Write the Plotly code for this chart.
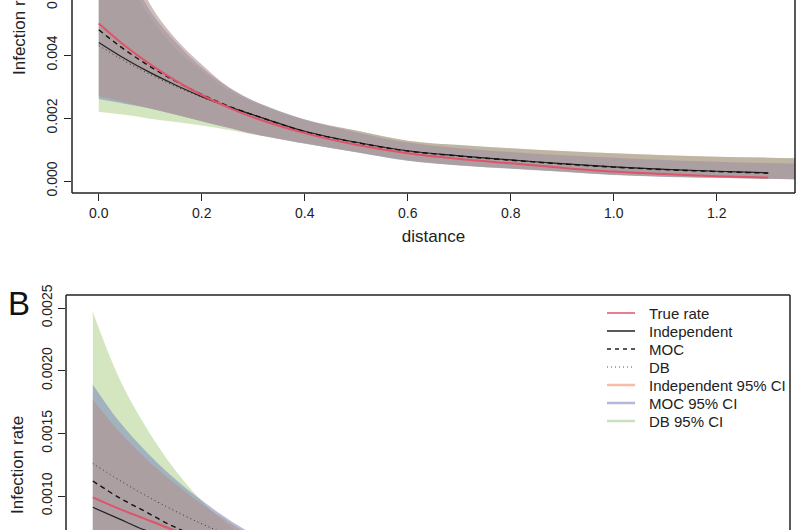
import plotly.graph_objects as go

# ---------------- Panel A data ----------------
dist_a = [0, 0.05, 0.1, 0.15, 0.2, 0.25, 0.3, 0.4, 0.5, 0.6, 0.7, 0.8, 0.9, 1.0, 1.1, 1.2, 1.3]
true_a = [0.0050, 0.0043, 0.0037, 0.00318, 0.00273, 0.00235, 0.00202, 0.00152, 0.00115, 0.00088,
          0.00070, 0.00056, 0.00042, 0.00030, 0.00022, 0.00015, 0.00011]
indep_a = [0.0044, 0.00389, 0.00344, 0.00304, 0.00268, 0.00237, 0.0021, 0.00158, 0.00123, 0.00096,
           0.00080, 0.00067, 0.00055, 0.00045, 0.00037, 0.00031, 0.00026]
moc_a = [0.0048, 0.00417, 0.00363, 0.00316, 0.00275, 0.00239, 0.0021, 0.00157, 0.00122, 0.00095,
         0.00079, 0.00066, 0.00054, 0.00044, 0.00036, 0.00030, 0.00025]
db_a = [0.0043, 0.00381, 0.00338, 0.0030, 0.00266, 0.00236, 0.0021, 0.00158, 0.00123, 0.00096,
        0.00080, 0.00067, 0.00055, 0.00045, 0.00037, 0.00031, 0.00026]

dist_a_ci = [0, 0.05, 0.1, 0.15, 0.2, 0.25, 0.3, 0.4, 0.5, 0.6, 0.7, 0.8, 0.9, 1.0, 1.1, 1.2, 1.3, 1.4]
indep_a_up = [0.0098, 0.0075, 0.0056, 0.0045, 0.0037, 0.0030, 0.00255, 0.00195, 0.00160, 0.00128,
              0.00114, 0.00104, 0.00095, 0.00088, 0.00082, 0.00077, 0.00074, 0.00071]
indep_a_lo = [0.0027, 0.0025, 0.0023, 0.0021, 0.0019, 0.00170, 0.00150, 0.00120, 0.00092, 0.00066,
              0.00050, 0.00040, 0.00030, 0.00020, 0.00014, 0.00010, 0.00007, 0.00005]
moc_a_up = [0.0090, 0.0070, 0.0054, 0.0044, 0.0036, 0.0030, 0.00255, 0.00195, 0.00155, 0.00122,
            0.00104, 0.00092, 0.00082, 0.00074, 0.00067, 0.00061, 0.00057, 0.00054]
moc_a_lo = [0.0026, 0.00245, 0.0023, 0.0021, 0.0019, 0.00170, 0.00150, 0.00119, 0.00091, 0.00064,
            0.00049, 0.00039, 0.00029, 0.00019, 0.00013, 0.00010, 0.00007, 0.00005]
db_a_up = [0.0085, 0.0066, 0.0052, 0.0042, 0.0035, 0.0029, 0.0025, 0.00193, 0.00160, 0.00128,
           0.00114, 0.00104, 0.00095, 0.00088, 0.00082, 0.00077, 0.00074, 0.00071]
db_a_lo = [0.0022, 0.0021, 0.00198, 0.00187, 0.00176, 0.00163, 0.00148, 0.00118, 0.00091, 0.00064,
           0.00050, 0.00040, 0.00030, 0.00020, 0.00014, 0.00010, 0.00007, 0.00005]

# ---------------- Panel B data ----------------
dist_b = [0, 0.05, 0.1, 0.15, 0.2, 0.25, 0.3, 0.4, 0.5, 0.6, 0.7, 0.8, 0.9, 1.0, 1.1, 1.2, 1.3]
true_b = [0.00099, 0.00090, 0.00082, 0.00074, 0.00067, 0.00061, 0.00056, 0.00046, 0.00038, 0.00031,
          0.00026, 0.00021, 0.00017, 0.00014, 0.00012, 0.00010, 0.00008]
indep_b = [0.00091, 0.00082, 0.00073, 0.00066, 0.00060, 0.00054, 0.00049, 0.00040, 0.00033, 0.00027,
           0.00023, 0.00019, 0.00016, 0.00014, 0.00012, 0.00010, 0.00009]
moc_b = [0.00112, 0.00099, 0.00088, 0.00077, 0.00068, 0.00061, 0.00054, 0.00043, 0.00035, 0.00028,
         0.00023, 0.00019, 0.00016, 0.00014, 0.00012, 0.00010, 0.00009]
db_b = [0.00126, 0.00113, 0.00101, 0.00090, 0.00080, 0.00071, 0.00063, 0.00050, 0.00040, 0.00032,
        0.00026, 0.00021, 0.00017, 0.00014, 0.00012, 0.00010, 0.00009]

dist_b_ci = [0, 0.05, 0.1, 0.15, 0.2, 0.25, 0.3, 0.4, 0.5, 0.6, 0.7, 0.8, 0.9, 1.0, 1.1, 1.2, 1.3, 1.4]
indep_b_up = [0.00177, 0.00152, 0.00131, 0.00113, 0.00097, 0.00083, 0.00070, 0.00051, 0.00037, 0.00028,
              0.00022, 0.00018, 0.00015, 0.00013, 0.00011, 0.00010, 0.00009, 0.00008]
indep_b_lo = [0.00045, 0.00042, 0.00040, 0.00037, 0.00035, 0.00033, 0.00031, 0.00027, 0.00023, 0.00020,
              0.00017, 0.00015, 0.00013, 0.00011, 0.00010, 0.00009, 0.00008, 0.00007]
moc_b_up = [0.00189, 0.00160, 0.00137, 0.00117, 0.00100, 0.00085, 0.00072, 0.00052, 0.00038, 0.00029,
            0.00023, 0.00019, 0.00016, 0.00014, 0.00012, 0.00011, 0.00010, 0.00009]
moc_b_lo = [0.00044, 0.00041, 0.00039, 0.00036, 0.00034, 0.00032, 0.00030, 0.00026, 0.00022, 0.00019,
            0.00016, 0.00014, 0.00012, 0.00010, 0.00009, 0.00008, 0.00007, 0.00006]
db_b_up = [0.00247, 0.00195, 0.00157, 0.00126, 0.00101, 0.00081, 0.00066, 0.00046, 0.00033, 0.00026,
           0.00021, 0.00017, 0.00015, 0.00013, 0.00011, 0.00010, 0.00009, 0.00008]
db_b_lo = [0.00040, 0.00038, 0.00036, 0.00034, 0.00032, 0.00030, 0.00028, 0.00024, 0.00021, 0.00018,
           0.00015, 0.00013, 0.00011, 0.00010, 0.00009, 0.00008, 0.00007, 0.00006]

x_ticks = [0, 0.2, 0.4, 0.6, 0.8, 1.0, 1.2]
x_ticktext = ["0.0", "0.2", "0.4", "0.6", "0.8", "1.0", "1.2"]
ya_ticks = [0, 0.002, 0.004]
ya_ticktext = ["0.000", "0.002", "0.004"]
ya_cut_label = "0.006"
yb_ticks = [0.0010, 0.0015, 0.0020, 0.0025]
yb_ticktext = ["0.0010", "0.0015", "0.0020", "0.0025"]

legend_names = ["True rate", "Independent", "MOC", "DB",
                "Independent 95% CI", "MOC 95% CI", "DB 95% CI"]

# ---------------- styles ----------------
FONT = "Liberation Sans, Arial, Helvetica, sans-serif"
RED = "#DF536B"
FILL_DB = "rgba(183,213,150,0.6)"
FILL_MOC = "rgba(129,143,189,0.6)"
FILL_IND = "rgba(178,146,142,0.6)"
LEG_IND = "#F6BCA8"
LEG_MOC = "#B4B6DC"
LEG_DB = "#C9DFC0"

W, H = 800, 530
def px_x(p):
    return p / W
def px_y(p):
    return 1 - p / H

fig = go.Figure()

def add_band(x, lo, up, color, xa, ya):
    fig.add_trace(go.Scatter(x=x, y=lo, mode="lines", line=dict(width=0, shape="spline"),
                             showlegend=False, hoverinfo="skip", xaxis=xa, yaxis=ya))
    fig.add_trace(go.Scatter(x=x, y=up, mode="lines", line=dict(width=0, shape="spline"),
                             fill="tonexty", fillcolor=color, showlegend=False,
                             hoverinfo="skip", xaxis=xa, yaxis=ya))

def add_lines(x, tr, ind, moc, db, xa, ya):
    fig.add_trace(go.Scatter(x=x, y=db, mode="lines", line=dict(color="#333333", width=1, dash="1px,3px", shape="spline"),
                             showlegend=False, xaxis=xa, yaxis=ya))
    fig.add_trace(go.Scatter(x=x, y=ind, mode="lines", line=dict(color="#222222", width=1.2, shape="spline"),
                             showlegend=False, xaxis=xa, yaxis=ya))
    fig.add_trace(go.Scatter(x=x, y=moc, mode="lines", line=dict(color="#111111", width=1.4, dash="5px,4px", shape="spline"),
                             showlegend=False, xaxis=xa, yaxis=ya))
    fig.add_trace(go.Scatter(x=x, y=tr, mode="lines", line=dict(color=RED, width=2, shape="spline"),
                             showlegend=False, xaxis=xa, yaxis=ya))

# Panel A (drawing order: DB, MOC, Independent)
add_band(dist_a_ci, db_a_lo, db_a_up, FILL_DB, "x", "y")
add_band(dist_a_ci, moc_a_lo, moc_a_up, FILL_MOC, "x", "y")
add_band(dist_a_ci, indep_a_lo, indep_a_up, FILL_IND, "x", "y")
add_lines(dist_a, true_a, indep_a, moc_a, db_a, "x", "y")

# Panel B
add_band(dist_b_ci, db_b_lo, db_b_up, FILL_DB, "x2", "y2")
add_band(dist_b_ci, moc_b_lo, moc_b_up, FILL_MOC, "x2", "y2")
add_band(dist_b_ci, indep_b_lo, indep_b_up, FILL_IND, "x2", "y2")
add_lines(dist_b, true_b, indep_b, moc_b, db_b, "x2", "y2")

axis_common = dict(showgrid=False, zeroline=False, showline=False, automargin=False,
                   ticks="outside", ticklen=7, tickwidth=1, tickcolor="#222",
                   tickfont=dict(family=FONT, size=14, color="#222"))

fig.update_layout(
    width=W, height=H,
    margin=dict(l=0, r=0, t=0, b=0, autoexpand=False),
    paper_bgcolor="white", plot_bgcolor="white",
    font=dict(family=FONT, color="#222"),
    showlegend=False,
    xaxis=dict(domain=[px_x(72), px_x(795)], range=[-0.052, 1.352], anchor="y",
               tickvals=x_ticks, ticktext=x_ticktext,
               title=dict(text="distance", font=dict(family=FONT, size=17, color="#222"), standoff=10),
               **axis_common),
    yaxis=dict(domain=[px_y(193), 1], range=[-0.000381, 0.005746], anchor="x",
               tickvals=ya_ticks, ticktext=ya_ticktext, tickangle=-90, ticklabelstandoff=1,
               **axis_common),
    xaxis2=dict(domain=[px_x(66), px_x(790)], range=[-0.052, 1.352], anchor="y2", automargin=False,
                showgrid=False, zeroline=False, showline=False, showticklabels=False, ticks=""),
    yaxis2=dict(domain=[0, px_y(295)], range=[0.000729, 0.002604], anchor="x2",
                tickvals=yb_ticks, ticktext=yb_ticktext, tickangle=-90, ticklabelstandoff=0,
                **axis_common),
)

frame = dict(color="#222222", width=1.5)
shapes = [
    # Panel A: left, bottom, right
    dict(type="line", xref="x domain", yref="y domain", x0=0, x1=0, y0=0, y1=1.02, line=frame),
    dict(type="line", xref="x domain", yref="y domain", x0=0, x1=1, y0=0, y1=0, line=frame),
    dict(type="line", xref="x domain", yref="y domain", x0=1, x1=1, y0=0, y1=1.02, line=frame),
    # Panel B: top, left, right
    dict(type="line", xref="x2 domain", yref="y2 domain", x0=0, x1=1, y0=1, y1=1, line=frame),
    dict(type="line", xref="x2 domain", yref="y2 domain", x0=0, x1=0, y0=-0.02, y1=1, line=frame),
    dict(type="line", xref="x2 domain", yref="y2 domain", x0=1, x1=1, y0=-0.02, y1=1, line=frame),
]

annotations = [
    dict(text="B", x=px_x(6), y=px_y(303), xref="paper", yref="paper",
         xanchor="left", yanchor="middle", showarrow=False,
         font=dict(family=FONT, size=33, color="#111")),
    dict(text="Infection rate", x=px_x(20), y=px_y(77), xref="paper", yref="paper",
         xanchor="center", yanchor="bottom", textangle=-90, showarrow=False,
         font=dict(family=FONT, size=17, color="#222")),
    dict(text="Infection rate", x=px_x(17), y=px_y(465), xref="paper", yref="paper",
         xanchor="center", yanchor="middle", textangle=-90, showarrow=False,
         font=dict(family=FONT, size=17, color="#222")),
    dict(text=ya_cut_label, x=px_x(52), y=px_y(-8), xref="paper", yref="paper",
         xanchor="center", yanchor="middle", textangle=-90, showarrow=False,
         font=dict(family=FONT, size=14, color="#222")),
]

# Manual legend (panel B, top right, no box)
leg_styles = [dict(color=RED, width=1.5),
              dict(color="#222222", width=1.5),
              dict(color="#222222", width=1.5, dash="4px,4px"),
              dict(color="#555555", width=1, dash="1px,3px"),
              dict(color=LEG_IND, width=2.5),
              dict(color=LEG_MOC, width=2.5),
              dict(color=LEG_DB, width=2.5)]
for i, (name, st) in enumerate(zip(legend_names, leg_styles)):
    yy = px_y(313 + 18 * i)
    shapes.append(dict(type="line", xref="paper", yref="paper",
                       x0=px_x(607), x1=px_x(635), y0=yy, y1=yy, line=st))
    annotations.append(dict(text=name, x=px_x(647), y=yy, xref="paper", yref="paper",
                            xanchor="left", yanchor="middle", showarrow=False,
                            font=dict(family=FONT, size=15, color="#222")))

fig.update_layout(shapes=shapes, annotations=annotations)

# remove the default 8px page margin so the figure fills the 800x530 window exactly
fig.write_html("out.html", config={"displayModeBar": False},
               post_script="document.body.style.margin='0';document.body.style.overflow='hidden';")
